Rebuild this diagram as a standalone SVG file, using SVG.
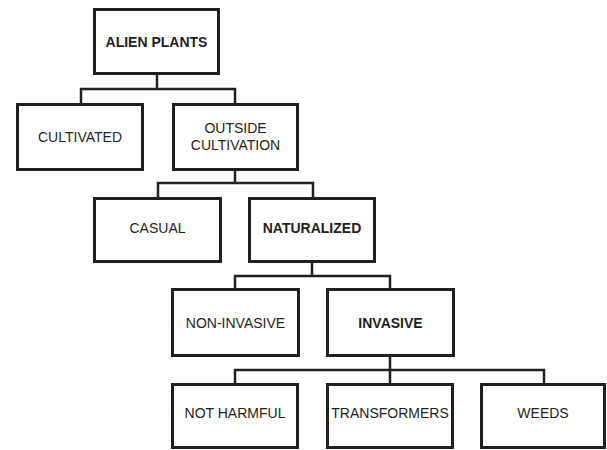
<svg xmlns="http://www.w3.org/2000/svg" width="607" height="450" viewBox="0 0 607 450">
<style>
.box{fill:#fff;stroke:#231f20;stroke-width:3}
.t{font-family:"Liberation Sans",Arial,sans-serif;font-size:14px;fill:#231f20;text-anchor:middle}
.b{font-weight:bold}
.c{fill:none;stroke:#231f20;stroke-width:2.5}
</style>
<rect width="607" height="450" fill="#fff"/>
<g id="connectors">
<path class="c" d="M157 75 V89 M81 103 V89 H235 V103"/>
<path class="c" d="M235 171 V183 M158 197 V183 H313 V197"/>
<path class="c" d="M312 263 V276 M235 288 V276 H390 V288"/>
<path class="c" d="M390 357 V384 M235 383 V370 H544 V383"/>
</g>
<g id="alien-plants"><rect class="box" x="94.5" y="9.5" width="124" height="64"/><text class="t b" x="156.5" y="46.5">ALIEN PLANTS</text></g>
<g id="cultivated"><rect class="box" x="17.5" y="104.5" width="125" height="65"/><text class="t" x="80" y="141.5">CULTIVATED</text></g>
<g id="outside-cultivation"><rect class="box" x="173.5" y="104.5" width="124" height="65"/><text class="t" x="235.5" y="133">OUTSIDE</text><text class="t" x="235.5" y="150">CULTIVATION</text></g>
<g id="casual"><rect class="box" x="94.5" y="198.5" width="126" height="63"/><text class="t" x="157.5" y="233">CASUAL</text></g>
<g id="naturalized"><rect class="box" x="249.5" y="198.5" width="125" height="63"/><text class="t b" x="312" y="233">NATURALIZED</text></g>
<g id="non-invasive"><rect class="box" x="172.5" y="289.5" width="126" height="66"/><text class="t" x="235.5" y="327.5">NON-INVASIVE</text></g>
<g id="invasive"><rect class="box" x="327.5" y="289.5" width="126" height="66"/><text class="t b" x="390.5" y="327.5">INVASIVE</text></g>
<g id="not-harmful"><rect class="box" x="172.5" y="384.5" width="125" height="63"/><text class="t" x="235" y="418">NOT HARMFUL</text></g>
<g id="transformers"><rect class="box" x="327.5" y="384.5" width="125" height="63"/><text class="t" x="390" y="418">TRANSFORMERS</text></g>
<g id="weeds"><rect class="box" x="481.5" y="384.5" width="123" height="63"/><text class="t" x="543" y="418">WEEDS</text></g>
</svg>
